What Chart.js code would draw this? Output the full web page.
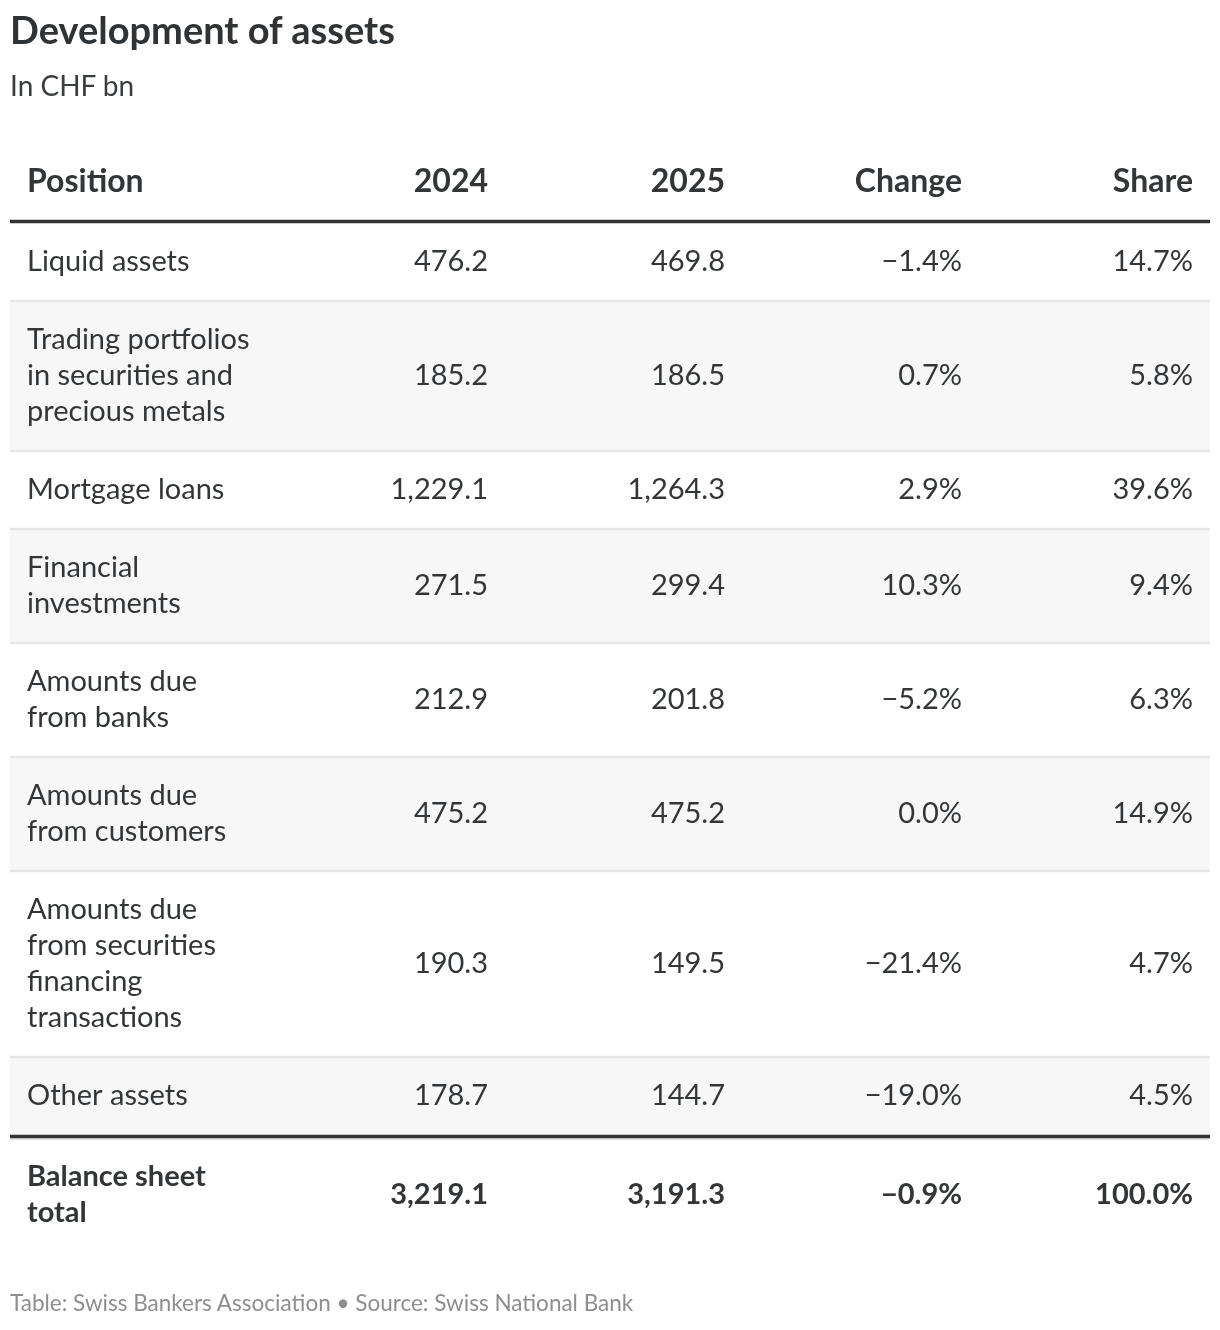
<!DOCTYPE html>
<html>
<head>
<meta charset="utf-8">
<script src="https://cdn.jsdelivr.net/npm/chart.js@4.4.1/dist/chart.umd.min.js"></script>
<style>
  body { margin: 0; background: #fff; }
  #wrap { position: relative; width: 1220px; height: 1330px; font-family: Lato, "Open Sans", sans-serif; }
  #c { position: absolute; left: 0; top: 0; }
  .txt { position: absolute; left: 10px; margin: 0; white-space: nowrap; line-height: 1; }
  #title { top: 10px; font-size: 38px; font-weight: 700; color: #2f3336; }
  #subtitle { top: 71px; font-size: 28px; font-weight: 400; color: #3a3d40; }
  #footer { top: 1292px; font-size: 22.5px; font-weight: 400; color: #8e8e8e; }
</style>
</head>
<body>
<div id="wrap">
  <canvas id="c" width="1220" height="1330"></canvas>
  <h1 class="txt" id="title">Development of assets</h1>
  <p class="txt" id="subtitle">In CHF bn</p>
  <p class="txt" id="footer">Table: Swiss Bankers Association • Source: Swiss National Bank</p>
</div>
<script>
// table data
const headers = ['Position', '2024', '2025', 'Change', 'Share'];
const positions = [
    ['Liquid assets'],
    ['Trading portfolios', 'in securities and', 'precious metals'],
    ['Mortgage loans'],
    ['Financial', 'investments'],
    ['Amounts due', 'from banks'],
    ['Amounts due', 'from customers'],
    ['Amounts due', 'from securities', 'financing', 'transactions'],
    ['Other assets']
];
const values2024 = [476.2, 185.2, 1229.1, 271.5, 212.9, 475.2, 190.3, 178.7];
const values2025 = [469.8, 186.5, 1264.3, 299.4, 201.8, 475.2, 149.5, 144.7];
const changes = [-1.4, 0.7, 2.9, 10.3, -5.2, 0.0, -21.4, -19.0];
const shares = [14.7, 5.8, 39.6, 9.4, 6.3, 14.9, 4.7, 4.5];
const totalLabel = ['Balance sheet', 'total'];
const total2024 = 3219.1;
const total2025 = 3191.3;
const totalChange = -0.9;
const totalShare = 100.0;

// layout (page pixels, used as units on the hidden y scale)
const HEADER_TOP = 142, HEADER_BOTTOM = 220, RULE = 3;
const LINE_H = 36, ROW_PAD = 42;
const colAnchors = [17, 478, 715, 952, 1183]; // x offsets inside the table (x2 scale units)
const colAlign = ['left', 'right', 'right', 'right', 'right'];

const fmt = (v, pct) => {
    let s = Math.abs(v).toLocaleString('en-US', { minimumFractionDigits: 1, maximumFractionDigits: 1 });
    if (v < 0) s = '\u2212' + s;
    return pct ? s + '%' : s;
};

// compute row bands from line counts
const rows = [];
let y = HEADER_BOTTOM + RULE;
positions.forEach((p, i) => {
    const h = ROW_PAD + LINE_H * p.length;
    rows.push({
        top: y, bottom: y + h, label: p,
        cells: [fmt(values2024[i]), fmt(values2025[i]), fmt(changes[i], true), fmt(shares[i], true)]
    });
    y += h;
});
const lastBottom = y;
const totalTop = lastBottom + RULE;
const totalRow = {
    top: totalTop, bottom: totalTop + ROW_PAD + LINE_H * totalLabel.length, label: totalLabel,
    cells: [fmt(total2024), fmt(total2025), fmt(totalChange, true), fmt(totalShare, true)]
};

// datasets: striped backgrounds, thin separators, thick rules
const datasets = [];
rows.forEach((r, i) => {
    if (i % 2 === 1) {
        datasets.push({ data: [[r.top, r.bottom]], backgroundColor: '#f7f7f7', order: 3 });
    }
    if (i < rows.length - 1) {
        datasets.push({ data: [[r.bottom - 1, r.bottom + 1]], backgroundColor: '#e6e6e6', order: 2 });
    }
});
datasets.push({ data: [[lastBottom + RULE, lastBottom + RULE + 2]], backgroundColor: '#e6e6e6', order: 2 });
datasets.push({ data: [[HEADER_BOTTOM, HEADER_BOTTOM + RULE]], backgroundColor: '#333333', order: 1 });
datasets.push({ data: [[lastBottom, lastBottom + RULE]], backgroundColor: '#333333', order: 1 });
datasets.forEach(d => {
    d.grouped = false;
    d.barPercentage = 1;
    d.categoryPercentage = 1;
    d.borderWidth = 0;
});

// draws the cell texts using the chart scales
const tableText = {
    id: 'tableText',
    afterDatasetsDraw(chart) {
        const ctx = chart.ctx;
        const xs = chart.scales.x2;
        const ys = chart.scales.y;
        const drawRow = (lines, cells, top, bottom, size, weight) => {
            const center = (ys.getPixelForValue(top) + ys.getPixelForValue(bottom)) / 2;
            const base = center - 1 + size * 0.36;
            ctx.font = weight + ' ' + size + 'px Lato, "Open Sans", sans-serif';
            ctx.fillStyle = '#333638';
            ctx.textBaseline = 'alphabetic';
            ctx.textAlign = colAlign[0];
            const first = base - (lines.length - 1) * LINE_H / 2;
            lines.forEach((t, k) => ctx.fillText(t, xs.getPixelForValue(colAnchors[0]), first + k * LINE_H));
            cells.forEach((t, c) => {
                ctx.textAlign = colAlign[c + 1];
                ctx.fillText(t, xs.getPixelForValue(colAnchors[c + 1]), base);
            });
        };
        ctx.save();
        drawRow([headers[0]], headers.slice(1), HEADER_TOP, HEADER_BOTTOM, 32, '700');
        rows.forEach(r => drawRow(r.label, r.cells, r.top, r.bottom, 29, '400'));
        drawRow(totalRow.label, totalRow.cells, totalRow.top, totalRow.bottom, 29, '700');
        ctx.restore();
    }
};

new Chart(document.getElementById('c'), {
    type: 'bar',
    data: { labels: [''], datasets: datasets },
    options: {
        responsive: false,
        animation: false,
        events: [],
        layout: { padding: { left: 10, right: 10, top: 0, bottom: 0 } },
        scales: {
            x: { type: 'category', display: false, offset: true, grid: { display: false } },
            x2: { type: 'linear', axis: 'x', position: 'bottom', display: false, offset: false, min: 0, max: 1200 },
            y: { type: 'linear', display: false, reverse: true, offset: false, min: 0, max: 1330 }
        },
        plugins: { legend: { display: false }, tooltip: { enabled: false } }
    },
    plugins: [tableText]
});
</script>
</body>
</html>
